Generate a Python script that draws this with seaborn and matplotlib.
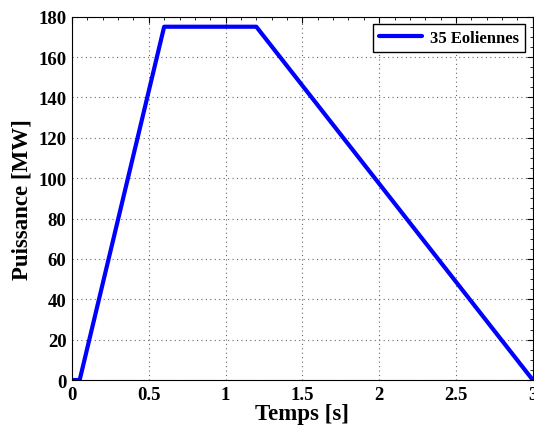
import matplotlib
matplotlib.use("Agg")
import matplotlib.pyplot as plt
import numpy as np
import pandas as pd
import seaborn as sns
from matplotlib.ticker import MultipleLocator

# profil de puissance
temps = [0.0, 0.05, 0.6, 1.2, 3.0]
puissance = [0.0, 0.0, 175.0, 175.0, 0.0]
serie = "35 Eoliennes"

df = pd.DataFrame({"Temps": temps, "Puissance": puissance, "serie": serie})

sns.set_style("white")
plt.rcParams['font.family'] = ['Liberation Serif', 'DejaVu Serif']
plt.rcParams['font.weight'] = 'bold'
plt.rcParams['text.color'] = 'black'
plt.rcParams['axes.labelcolor'] = 'black'
plt.rcParams['xtick.color'] = 'black'
plt.rcParams['ytick.color'] = 'black'

fig = plt.figure(figsize=(5.34, 4.27), dpi=100)
ax = fig.add_axes([0.1348, 0.1077, 0.863, 0.851])

sns.lineplot(data=df, x="Temps", y="Puissance", hue="serie", palette=["#0000ff"],
             linewidth=3, sort=False, ax=ax)

ax.set_xlim(0, 3)
ax.set_ylim(0, 180)
ax.set_xticks([0, 0.5, 1, 1.5, 2, 2.5, 3])
ax.set_xticklabels(["0", "0.5", "1", "1.5", "2", "2.5", "3"])
ax.set_yticks(np.arange(0, 181, 20))
ax.xaxis.set_minor_locator(MultipleLocator(0.1))
ax.yaxis.set_minor_locator(MultipleLocator(5))
ax.tick_params(which='both', direction='in', top=True, right=True, labelsize=13.5, pad=4,
               colors='black')
ax.tick_params(which='major', length=4)
ax.tick_params(which='minor', length=2)
for lab in ax.get_xticklabels() + ax.get_yticklabels():
    lab.set_fontweight('bold')

ax.grid(True, which='major', linestyle=(0, (1, 3)), color='#666666', linewidth=0.8)
for s in ax.spines.values():
    s.set_color('black')
    s.set_linewidth(0.8)

ax.set_xlabel("Temps [s]", fontsize=16.5, fontweight='bold', labelpad=0.5)
ax.set_ylabel("Puissance [MW]", fontsize=16.5, fontweight='bold', labelpad=4)

leg = ax.legend(loc='upper right', fontsize=12, frameon=True, fancybox=False,
                edgecolor='black', framealpha=1, handlelength=2.6,
                handletextpad=0.5, borderpad=0.35, borderaxespad=0.45)
leg.get_frame().set_linewidth(1.0)
for t in leg.get_texts():
    t.set_fontweight('bold')

fig.savefig("out.png", dpi=100)
